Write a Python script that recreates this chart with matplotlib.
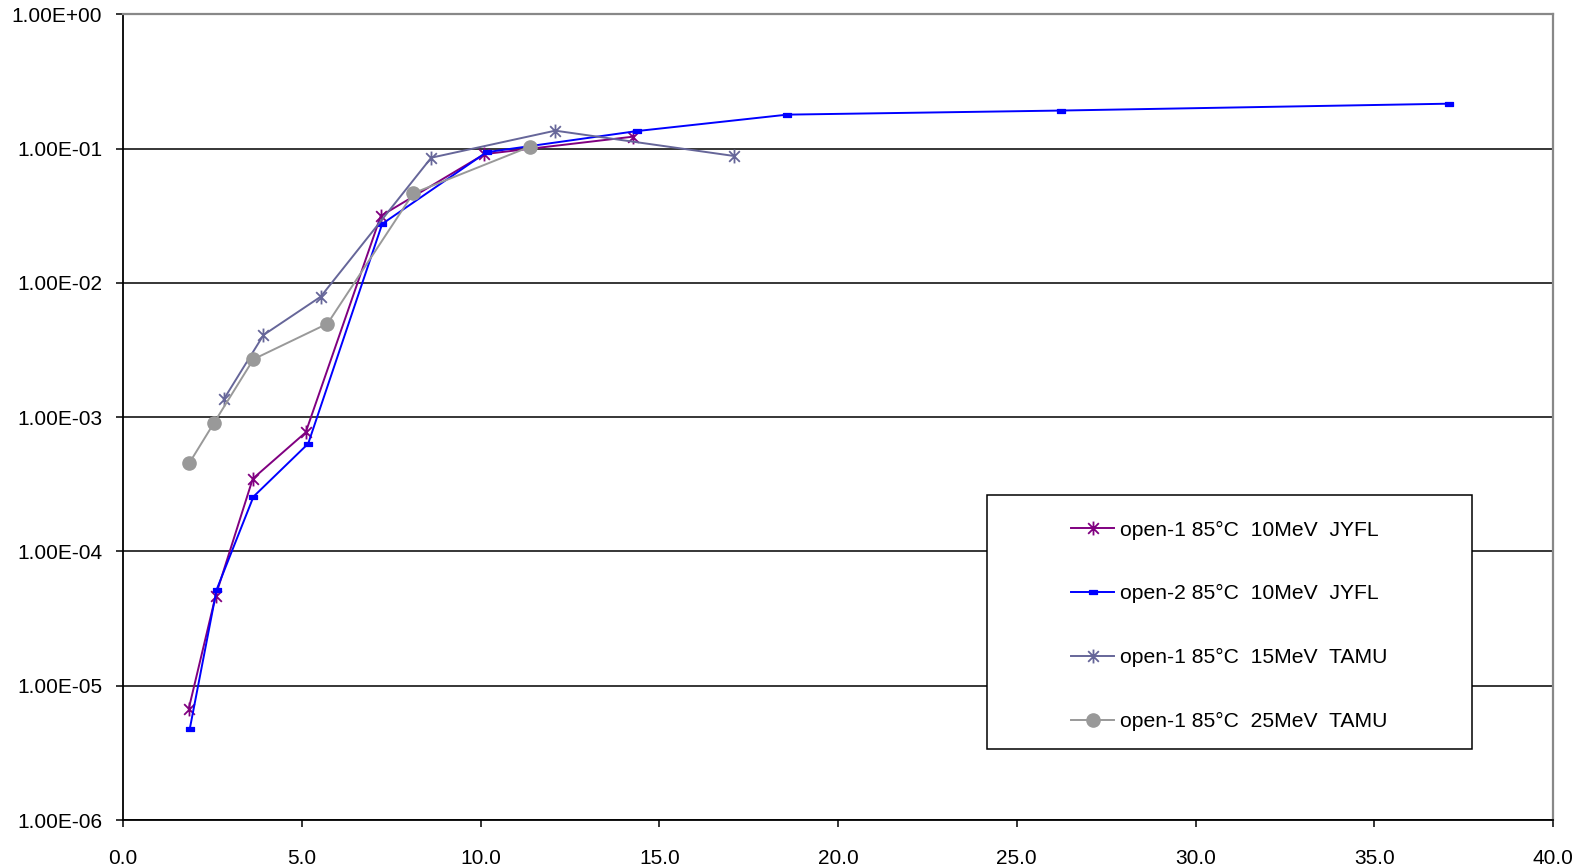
import matplotlib
matplotlib.use("Agg")
import matplotlib.pyplot as plt
from matplotlib.path import Path
from matplotlib.patches import Rectangle
from matplotlib.ticker import FixedLocator, FuncFormatter, NullLocator

plt.rcParams['font.family'] = ['Liberation Sans', 'DejaVu Sans']

# Series data (x: LET-like energy axis, y: cross section)
jyfl1_x = [1.84, 2.59, 3.63, 5.11, 7.21, 10.11, 14.27]
jyfl1_y = [6.75e-6, 4.66e-5, 3.48e-4, 7.7e-4, 3.15e-2, 9.1e-2, 0.1227]

jyfl2_x = [1.87, 2.62, 3.65, 5.18, 7.25, 10.17, 14.37, 18.58, 26.24, 37.09]
jyfl2_y = [4.8e-6, 5.2e-5, 2.56e-4, 6.35e-4, 2.75e-2, 9.4e-2, 0.135, 0.179, 0.192, 0.216]

tamu15_x = [2.82, 3.93, 5.53, 8.62, 12.09, 17.09]
tamu15_y = [1.36e-3, 4.09e-3, 7.89e-3, 8.55e-2, 0.136, 0.0881]

tamu25_x = [1.85, 2.55, 3.65, 5.72, 8.12, 11.38]
tamu25_y = [4.53e-4, 9.1e-4, 2.70e-3, 4.97e-3, 4.65e-2, 0.1033]

labels = ["open-1 85°C  10MeV  JYFL",
          "open-2 85°C  10MeV  JYFL",
          "open-1 85°C  15MeV  TAMU",
          "open-1 85°C  25MeV  TAMU"]

x_ticks = [0, 5, 10, 15, 20, 25, 30, 35, 40]
y_ticks = [1e-6, 1e-5, 1e-4, 1e-3, 1e-2, 1e-1, 1e0]

# Star marker: an X crossed by a vertical bar
star = Path([(-1, -1), (1, 1), (-1, 1), (1, -1), (0, -1.3), (0, 1.3)],
            [Path.MOVETO, Path.LINETO, Path.MOVETO, Path.LINETO, Path.MOVETO, Path.LINETO])
# Short bar marker
dash = Path([(-1, -0.45), (1, -0.45), (1, 0.45), (-1, 0.45), (-1, -0.45)],
            [Path.MOVETO, Path.LINETO, Path.LINETO, Path.LINETO, Path.CLOSEPOLY])

fig = plt.figure(figsize=(15.89, 8.67), dpi=100)
ax = fig.add_axes([0.0774, 0.0542, 0.9, 0.9293])

ax.plot(jyfl1_x, jyfl1_y, color='#800080', lw=1.4, marker=star, ms=10,
        mec='#800080', mfc='none', mew=1.3, label=labels[0], zorder=3)
ax.plot(jyfl2_x, jyfl2_y, color='#0000FF', lw=1.4, marker=dash, ms=6,
        mec='#0000FF', mfc='#0000FF', mew=0.9, label=labels[1], zorder=3)
ax.plot(tamu15_x, tamu15_y, color='#666699', lw=1.4, marker=star, ms=10,
        mec='#666699', mfc='none', mew=1.3, label=labels[2], zorder=3)
ax.plot(tamu25_x, tamu25_y, color='#999999', lw=1.4, marker='o', ms=9.5,
        mec='#999999', mfc='#999999', label=labels[3], zorder=3)

ax.set_yscale('log')
ax.set_xlim(0, 40)
ax.set_ylim(1e-6, 1e0)
ax.xaxis.set_major_locator(FixedLocator(x_ticks))
ax.yaxis.set_major_locator(FixedLocator(y_ticks))
ax.yaxis.set_minor_locator(NullLocator())
ax.xaxis.set_minor_locator(NullLocator())
ax.xaxis.set_major_formatter(FuncFormatter(lambda v, p: f"{v:.1f}"))
ax.yaxis.set_major_formatter(FuncFormatter(lambda v, p: f"{v:.2E}"))

ax.tick_params(axis='both', direction='out', length=5, width=1.1, colors='black',
               labelsize=15)
ax.tick_params(axis='y', pad=10)
ax.tick_params(axis='x', pad=16)

ax.yaxis.grid(True, color='black', lw=1.1, zorder=1)
ax.set_axisbelow(True)

for side in ('left', 'bottom'):
    ax.spines[side].set_color('black')
    ax.spines[side].set_linewidth(1.3)
for side in ('top', 'right'):
    ax.spines[side].set_color('#888888')
    ax.spines[side].set_linewidth(1.6)

# Legend box
ax.add_patch(Rectangle((0.604, 0.0877), 0.3394, 0.3161, transform=ax.transAxes,
                       facecolor='white', edgecolor='black', lw=1.1, zorder=4))
leg = ax.legend(loc='center left', bbox_to_anchor=(0.663, 0.2410), frameon=False,
                fontsize=15.2, handlelength=2.05, handletextpad=0.25, labelspacing=2.12,
                borderpad=0, borderaxespad=0)
leg.set_zorder(5)

fig.savefig("out.png", dpi=100)
